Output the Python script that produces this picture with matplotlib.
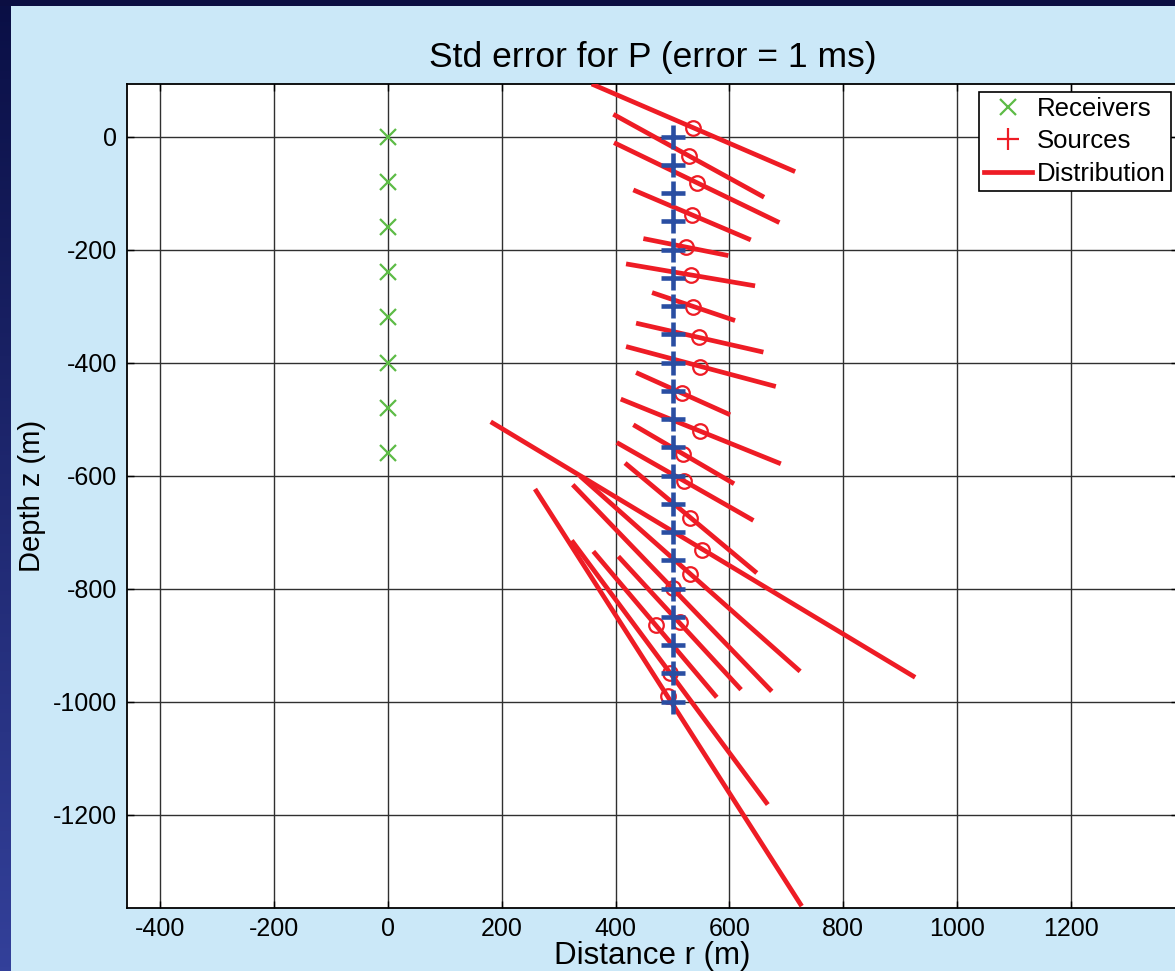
import numpy as np
import matplotlib
matplotlib.use("Agg")
import matplotlib.pyplot as plt
from matplotlib.lines import Line2D
from matplotlib.colors import LinearSegmentedColormap

plt.rcParams['font.family'] = ['Liberation Sans', 'DejaVu Sans']
plt.rcParams['axes.unicode_minus'] = False

# ---------------- data ----------------
receiver_r = [0, 0, 0, 0, 0, 0, 0, 0]
receiver_z = [0, -80, -160, -240, -320, -400, -480, -560]

source_r = [500] * 21
source_z = [0, -50, -100, -150, -200, -250, -300, -350, -400, -450, -500,
            -550, -600, -650, -700, -750, -800, -850, -900, -950, -1000]

# estimated locations (circles)
est_r = [536.6, 529.5, 542.5, 533.7, 523.7, 532.0, 536.6, 547.1, 548.3, 517.2,
         548.3, 519.0, 520.7, 530.8, 552.4, 530.8, 501.4, 513.2, 471.0, 495.6, 492.6]
est_z = [15.9, -34.1, -82.4, -138.5, -195.6, -244.6, -300.7, -354.9, -407.9, -452.9,
         -521.8, -561.3, -609.6, -675.0, -731.1, -773.6, -798.9, -859.7, -863.8, -949.2, -990.6]

# distribution segments (principal error axis)
dist_r0 = [358.0, 396.0, 397.2, 431.1, 448.7, 418.3, 464.0, 435.9, 418.3, 435.9,
           409.0, 431.1, 401.9, 416.5, 180.5, 337.4, 324.6, 404.7, 360.8, 322.8, 258.3]
dist_z0 = [93.2, 39.6, -10.6, -94.3, -180.4, -225.2, -276.0, -330.1, -371.5, -417.5,
           -464.5, -510.0, -541.3, -577.7, -504.7, -600.7, -616.1, -743.0, -734.1, -714.7, -623.7]
dist_r1 = [715.3, 660.8, 687.7, 637.4, 598.1, 645.0, 609.8, 659.6, 681.4, 601.1,
           690.2, 608.1, 642.0, 648.0, 926.2, 724.1, 674.3, 620.4, 577.7, 667.3, 726.9]
dist_z1 = [-61.9, -107.2, -152.1, -182.7, -210.5, -264.1, -325.5, -381.4, -442.2, -492.3,
           -579.0, -614.4, -679.3, -772.3, -957.0, -946.4, -981.8, -978.8, -992.4, -1182.2, -1362.0]

x_ticks = [-400, -200, 0, 200, 400, 600, 800, 1000, 1200]
y_ticks = [0, -200, -400, -600, -800, -1000, -1200]

# ---------------- figure ----------------
W, H = 1175, 971
fig = plt.figure(figsize=(W / 100, H / 100), dpi=100, facecolor='#cbe8f8')

# dark presentation border (left strip and top strip)
bl = fig.add_axes([0, 0, 11 / W, 1])
grad = np.linspace(0, 1, 256).reshape(-1, 1)
cm = LinearSegmentedColormap.from_list('b', ['#0a0f45', '#33409a'])
bl.imshow(grad, aspect='auto', cmap=cm, extent=[0, 1, 0, 1])
bl.axis('off')
bt = fig.add_axes([0, 1 - 6 / H, 1, 6 / H])
bt.set_facecolor('#0b0e42')
bt.set_xticks([]); bt.set_yticks([])
for s in bt.spines.values():
    s.set_visible(False)

left_px, right_px, top_px, bot_px = 126.7, 1178.0, 84.0, 907.5
ax = fig.add_axes([left_px / W, 1 - bot_px / H, (right_px - left_px) / W, (bot_px - top_px) / H])
ax.set_facecolor('white')

# distribution lines
for i in range(len(dist_r0)):
    ax.plot([dist_r0[i], dist_r1[i]], [dist_z0[i], dist_z1[i]], color='#ee1c25',
            lw=3.4, solid_capstyle='butt', zorder=3)
# estimated positions
ax.plot(est_r, est_z, 'o', mfc='none', mec='#ee1c25', ms=10.5, mew=1.6, zorder=4)
# receivers
ax.plot(receiver_r, receiver_z, 'x', color='#5dbb46', ms=11, mew=1.6, zorder=5)
# sources
ax.plot(source_r, source_z, '+', color='#2a4ea2', ms=17, mew=3.3, zorder=6)

ax.set_xlim(-459, 1388)
ax.set_ylim(-1364.4, 93.2)
ax.set_xticks(x_ticks)
ax.set_yticks(y_ticks)
ax.grid(True, color='#303030', lw=1.0)
ax.set_axisbelow(True)
ax.tick_params(direction='in', top=True, right=True, labelsize=18, length=5, width=1, pad=7)
for s in ax.spines.values():
    s.set_linewidth(1.3)

ax.set_title('Std error for P (error = 1 ms)', fontsize=25.5, pad=12)
ax.set_xlabel('Distance r (m)', fontsize=22.5, labelpad=0)
ax.set_ylabel('Depth z (m)', fontsize=21, labelpad=5)

handles = [Line2D([], [], ls='none', marker='x', color='#5dbb46', ms=11, mew=1.6),
           Line2D([], [], ls='none', marker='+', color='#ee1c25', ms=16, mew=1.6),
           Line2D([], [], color='#ee1c25', lw=3.4)]
leg = fig.legend(handles, ['Receivers', 'Sources', 'Distribution'],
                 loc='upper right', bbox_to_anchor=(1171 / W, 1 - 92 / H),
                 fontsize=18.5, fancybox=False, framealpha=1, edgecolor='black',
                 borderpad=0.2, labelspacing=0.32, handlelength=1.85,
                 handletextpad=0.2, borderaxespad=0)
leg.get_frame().set_linewidth(1.2)

fig.savefig('out.png', dpi=100, facecolor=fig.get_facecolor())
